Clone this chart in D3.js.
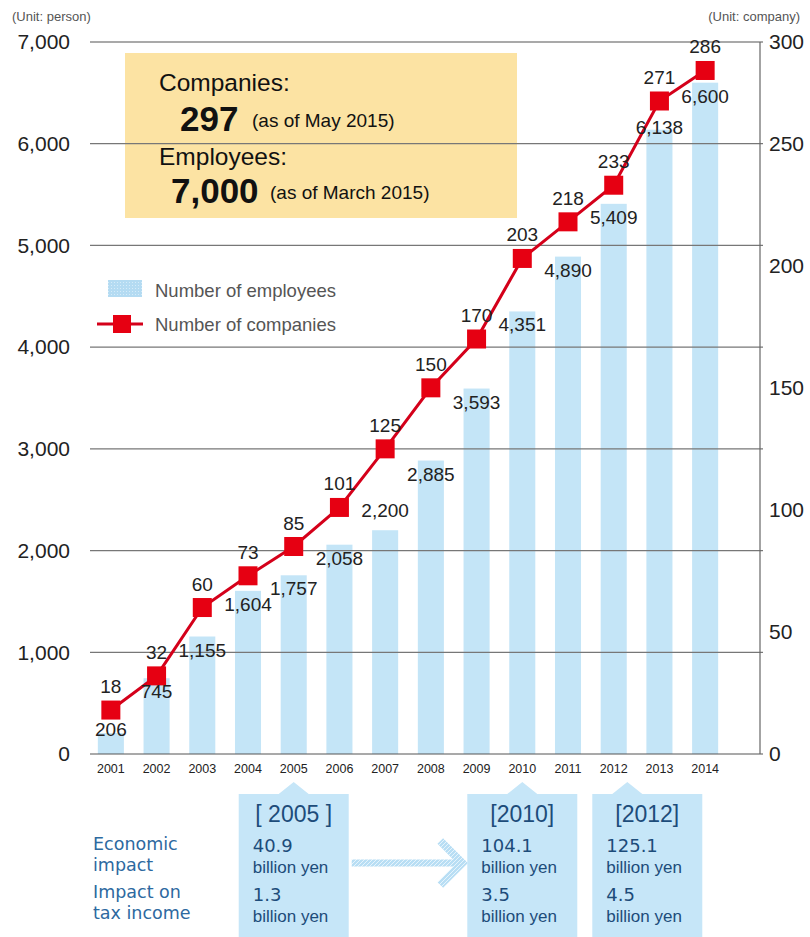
<!DOCTYPE html>
<html>
<head>
<meta charset="utf-8">
<script src="https://cdn.jsdelivr.net/npm/d3@7"></script>
<style>
  body { margin: 0; background: #fff; }
  svg { display: block; }
</style>
</head>
<body>
<svg id="chart" width="810" height="937"></svg>
<script>
// ---- data ----
const years = ['2001', '2002', '2003', '2004', '2005', '2006', '2007',
  '2008', '2009', '2010', '2011', '2012', '2013', '2014'];
const employees = [206, 745, 1155, 1604, 1757, 2058, 2200, 2885, 3593,
  4351, 4890, 5409, 6138, 6600];
const companies = [18, 32, 60, 73, 85, 101, 125, 150, 170, 203, 218, 233,
  271, 286];
const leftTicks = [0, 1000, 2000, 3000, 4000, 5000, 6000, 7000];
const rightTicks = [0, 50, 100, 150, 200, 250, 300];
const impactYears = ['2005', '2010', '2012'];
const economicImpact = ['40.9', '104.1', '125.1'];
const taxImpact = ['1.3', '3.5', '4.5'];

// ---- layout ----
const svg = d3.select('#chart');
const margin = { top: 42, bottom: 754, left: 90, right: 760 };
const NUM_FONT = '"Liberation Sans", Arial, sans-serif';
const BAR = '#c4e5f7';
const RED = '#e60012';
const TEXT = '#222';

const x = d3
  .scaleBand()
  .domain(years)
  .range([88, 728])
  .paddingInner(0.43)
  .paddingOuter(0.215);
const cx = d => x(d) + x.bandwidth() / 2;

const yLeft = d3
  .scaleLinear()
  .domain([0, 7000])
  .range([margin.bottom, margin.top]);

// the right axis in the picture is stretched in its top band
const yRight = d3
  .scaleLinear()
  .domain([0, 250, 300])
  .range([margin.bottom, yLeft(6000), margin.top]);

// textures for the legend swatch and the arrow
const defs = svg.append('defs');
const hatch = defs
  .append('pattern')
  .attr('id', 'hatch')
  .attr('patternUnits', 'userSpaceOnUse')
  .attr('width', 4)
  .attr('height', 4);
hatch.append('rect').attr('width', 4).attr('height', 4).attr('fill', '#b8def4');
hatch
  .append('path')
  .attr('d', 'M0,4 L4,0')
  .attr('stroke', '#e6f4fc')
  .attr('stroke-width', 1);

const dots = defs
  .append('pattern')
  .attr('id', 'dots')
  .attr('patternUnits', 'userSpaceOnUse')
  .attr('width', 3)
  .attr('height', 3);
dots.append('rect').attr('width', 3).attr('height', 3).attr('fill', '#b4dbf2');
dots.append('rect').attr('width', 1).attr('height', 1).attr('fill', '#d6ecf9');

// ---- info box (behind the grid) ----
svg
  .append('rect')
  .attr('x', 125)
  .attr('y', 53)
  .attr('width', 392)
  .attr('height', 165)
  .attr('fill', '#fce3a3');

const info = svg.append('g').attr('fill', '#111').attr('font-family', NUM_FONT);
info.append('text').attr('x', 159).attr('y', 91).attr('font-size', 24.5).text('Companies:');
info
  .append('text')
  .attr('x', 180)
  .attr('y', 131)
  .attr('font-size', 35)
  .attr('font-weight', 'bold')
  .text('297');
info.append('text').attr('x', 252).attr('y', 127).attr('font-size', 19).text('(as of May 2015)');
info.append('text').attr('x', 159).attr('y', 165).attr('font-size', 24.5).text('Employees:');
info
  .append('text')
  .attr('x', 171)
  .attr('y', 203)
  .attr('font-size', 35)
  .attr('font-weight', 'bold')
  .text('7,000');
info.append('text').attr('x', 270).attr('y', 199).attr('font-size', 19).text('(as of March 2015)');

// ---- bars ----
svg
  .append('g')
  .selectAll('rect')
  .data(years)
  .enter()
  .append('rect')
  .attr('x', d => x(d))
  .attr('y', (d, i) => yLeft(employees[i]))
  .attr('width', x.bandwidth())
  .attr('height', (d, i) => yLeft(0) - yLeft(employees[i]))
  .attr('fill', BAR);

// ---- grid and axes ----
svg
  .append('g')
  .selectAll('line')
  .data(leftTicks)
  .enter()
  .append('line')
  .attr('x1', margin.left)
  .attr('x2', margin.right + 3)
  .attr('y1', d => yLeft(d))
  .attr('y2', d => yLeft(d))
  .attr('stroke', d => (d === 0 || d === 7000 ? '#555' : '#777'))
  .attr('stroke-width', 1.2);

svg
  .append('line')
  .attr('x1', margin.right)
  .attr('x2', margin.right)
  .attr('y1', margin.top)
  .attr('y2', margin.bottom)
  .attr('stroke', '#666')
  .attr('stroke-width', 1.2);

const leftAxis = d3
  .axisLeft(yLeft)
  .tickValues(leftTicks)
  .tickSize(0)
  .tickPadding(20)
  .tickFormat(d3.format(','));
svg
  .append('g')
  .attr('transform', `translate(${margin.left},0)`)
  .call(leftAxis)
  .call(g => g.select('.domain').remove())
  .call(g =>
    g
      .selectAll('text')
      .attr('font-size', 21)
      .attr('font-family', NUM_FONT)
      .attr('fill', TEXT)
  );

const rightAxis = d3.axisRight(yRight).tickValues(rightTicks).tickSize(0).tickPadding(9);
svg
  .append('g')
  .attr('transform', `translate(${margin.right},0)`)
  .call(rightAxis)
  .call(g => g.select('.domain').remove())
  .call(g =>
    g
      .selectAll('text')
      .attr('font-size', 21)
      .attr('font-family', NUM_FONT)
      .attr('fill', TEXT)
  );

const xAxis = d3.axisBottom(x).tickSize(0).tickPadding(10);
svg
  .append('g')
  .attr('transform', `translate(0,${margin.bottom})`)
  .call(xAxis)
  .call(g => g.select('.domain').remove())
  .call(g =>
    g
      .selectAll('text')
      .attr('font-size', 12.5)
      .attr('font-family', NUM_FONT)
      .attr('fill', TEXT)
  );

// unit captions
svg
  .append('text')
  .attr('x', 12)
  .attr('y', 21)
  .attr('font-size', 13)
  .attr('font-family', NUM_FONT)
  .attr('fill', '#555')
  .text('(Unit: person)');
svg
  .append('text')
  .attr('x', 800)
  .attr('y', 21)
  .attr('text-anchor', 'end')
  .attr('font-size', 13)
  .attr('font-family', NUM_FONT)
  .attr('fill', '#555')
  .text('(Unit: company)');

// ---- company line ----
const line = d3
  .line()
  .x(d => cx(d))
  .y((d, i) => yRight(companies[i]));
svg
  .append('path')
  .datum(years)
  .attr('d', line)
  .attr('fill', 'none')
  .attr('stroke', '#d4001a')
  .attr('stroke-width', 3);

const MARK = 19;
svg
  .append('g')
  .selectAll('rect')
  .data(years)
  .enter()
  .append('rect')
  .attr('x', d => cx(d) - MARK / 2)
  .attr('y', (d, i) => yRight(companies[i]) - MARK / 2)
  .attr('width', MARK)
  .attr('height', MARK)
  .attr('fill', RED);

// ---- value labels ----
const labels = svg
  .append('g')
  .attr('font-family', NUM_FONT)
  .attr('font-size', 19)
  .attr('fill', TEXT)
  .attr('text-anchor', 'middle');

labels
  .selectAll('.company')
  .data(years)
  .enter()
  .append('text')
  .attr('class', 'company')
  .attr('x', d => cx(d))
  .attr('y', (d, i) => yRight(companies[i]) - 17)
  .text((d, i) => companies[i]);

// employee labels sit inside the bar top unless the marker is in the way
const employeeLabelShift = { 2001: -17, 2007: -33, 2013: -16 };
labels
  .selectAll('.employee')
  .data(years)
  .enter()
  .append('text')
  .attr('class', 'employee')
  .attr('x', d => cx(d))
  .attr('y', (d, i) => yLeft(employees[i]) + 20 + (employeeLabelShift[d] || 0))
  .text((d, i) => d3.format(',')(employees[i]));

// ---- legend ----
const legend = svg.append('g').attr('font-family', NUM_FONT).attr('font-size', 18.5).attr('fill', '#555');
legend
  .append('rect')
  .attr('x', 108)
  .attr('y', 280)
  .attr('width', 34)
  .attr('height', 17)
  .attr('fill', 'url(#dots)');
legend.append('text').attr('x', 155).attr('y', 297).text('Number of employees');
legend
  .append('line')
  .attr('x1', 97)
  .attr('x2', 143)
  .attr('y1', 324)
  .attr('y2', 324)
  .attr('stroke', '#d4001a')
  .attr('stroke-width', 3);
legend
  .append('rect')
  .attr('x', 113)
  .attr('y', 315)
  .attr('width', 18)
  .attr('height', 18)
  .attr('fill', RED);
legend.append('text').attr('x', 155).attr('y', 331).text('Number of companies');

// ---- economic impact call-outs ----
const BOX_W = 110;
const BOX_TOP = 794;
const BOX_GAP = 15;
const NAVY = '#1d4c7a';
const BLUE = '#2d69a0';

const sideLabels = svg
  .append('g')
  .attr('font-family', '"DejaVu Sans", sans-serif')
  .attr('font-size', 17.5)
  .attr('fill', BLUE);
[['Economic', 850], ['impact', 871], ['Impact on', 898], ['tax income', 919]].forEach(
  ([t, yy]) => sideLabels.append('text').attr('x', 93).attr('y', yy).text(t)
);

let prevRight = -Infinity;
const boxes = impactYears.map((yr, i) => {
  const left = Math.max(cx(yr) - BOX_W / 2, prevRight + BOX_GAP);
  prevRight = left + BOX_W;
  const apex = Math.max(left + 35, Math.min(cx(yr), left + BOX_W - 35));
  return { yr, left, apex, econ: economicImpact[i], tax: taxImpact[i] };
});

// arrow from the first call-out to the second
const arrowY = 863;
const ax0 = boxes[0].left + BOX_W + 3;
const ax1 = boxes[1].left - 3;
svg
  .append('line')
  .attr('x1', ax0)
  .attr('x2', ax1 - 4)
  .attr('y1', arrowY)
  .attr('y2', arrowY)
  .attr('stroke', 'url(#hatch)')
  .attr('stroke-width', 7);
svg
  .append('path')
  .attr('d', `M${ax1 - 24},${arrowY - 22} L${ax1 - 2},${arrowY} L${ax1 - 24},${arrowY + 22}`)
  .attr('fill', 'none')
  .attr('stroke', 'url(#hatch)')
  .attr('stroke-width', 8);

const callout = svg
  .append('g')
  .selectAll('g')
  .data(boxes)
  .enter()
  .append('g');

callout
  .append('path')
  .attr(
    'd',
    b =>
      `M${b.left},${BOX_TOP} L${b.apex - 15},${BOX_TOP} L${b.apex},${BOX_TOP - 12} ` +
      `L${b.apex + 15},${BOX_TOP} L${b.left + BOX_W},${BOX_TOP} L${b.left + BOX_W},937 L${b.left},937 Z`
  )
  .attr('fill', '#c6e6f8');

callout
  .append('text')
  .attr('x', b => b.left + BOX_W / 2)
  .attr('y', 822)
  .attr('text-anchor', 'middle')
  .attr('font-family', NUM_FONT)
  .attr('font-size', 23)
  .attr('fill', NAVY)
  .text((b, i) => (i === 0 ? `[ ${b.yr} ]` : `[${b.yr}]`));

const boxLines = [
  [b => b.econ, 852, 18, 'DejaVu Sans'],
  [() => 'billion yen', 873, 17, 'Liberation Sans'],
  [b => b.tax, 901, 18, 'DejaVu Sans'],
  [() => 'billion yen', 922, 17, 'Liberation Sans'],
];
boxLines.forEach(([fn, yy, fs, ff]) => {
  callout
    .append('text')
    .attr('x', b => b.left + 14)
    .attr('y', yy)
    .attr('font-family', `"${ff}", sans-serif`)
    .attr('font-size', fs)
    .attr('fill', NAVY)
    .text(fn);
});
</script>
</body>
</html>
